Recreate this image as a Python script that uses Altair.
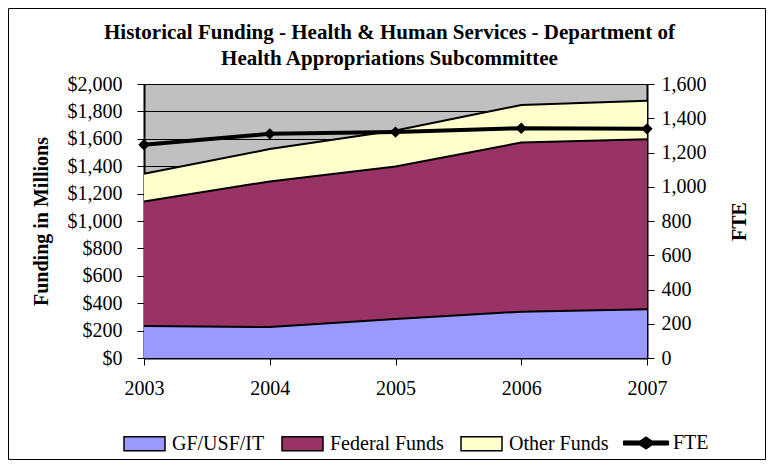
import altair as alt
import pandas as pd

years = [2003, 2004, 2005, 2006, 2007]
gf_usf_it = [233, 226, 285, 338, 355]
federal_funds = [910, 1063, 1113, 1235, 1242]
other_funds = [202, 236, 262, 274, 281]
fte = [1245, 1309, 1319, 1342, 1338]

fund_names = ["GF/USF/IT", "Federal Funds", "Other Funds"]
fund_colors = ["#9999FF", "#993366", "#FFFFCC"]

rows = []
for i, y in enumerate(years):
    base = 0
    for name, vals in zip(fund_names, [gf_usf_it, federal_funds, other_funds]):
        rows.append({"year": y, "series": name, "lower": base, "upper": base + vals[i]})
        base += vals[i]
funds_df = pd.DataFrame(rows)
fte_df = pd.DataFrame({"year": years, "fte": fte, "label": ["FTE"] * len(years)})

W, H = 503, 274
FONT = "Liberation Serif"

rect_path = "M-1,-0.34L1,-0.34L1,0.34L-1,0.34Z"
fte_path = "M-1.1,-0.1L-0.3,-0.1L0,-0.3L0.3,-0.1L1.1,-0.1L1.1,0.1L0.3,0.1L0,0.3L-0.3,0.1L-1.1,0.1Z"

x_enc = alt.X("year:Q", scale=alt.Scale(domain=[2003, 2007], nice=False),
              axis=alt.Axis(values=years, format="d", title=None, grid=False,
                            labelFlush=False, labelPadding=13, labelOverlap=False))

y_funds = alt.Y("upper:Q", scale=alt.Scale(domain=[0, 2000], nice=False),
                axis=alt.Axis(values=list(range(0, 2001, 200)), format="$,.0f",
                              title="Funding in Millions", grid=True, labelPadding=15,
                              titleX=-103, titleY=H / 2, titleBaseline="middle"))

area = alt.Chart(funds_df).mark_area(opacity=1).encode(
    x=x_enc,
    y=y_funds,
    y2="lower:Q",
    color=alt.Color("series:N",
                    scale=alt.Scale(domain=fund_names, range=fund_colors),
                    sort=fund_names,
                    legend=alt.Legend(
                        title=None, orient="none", direction="horizontal",
                        legendX=-21, legendY=338,
                        symbolType=rect_path, symbolSize=1681,
                        symbolStrokeColor="black", symbolStrokeWidth=1.5,
                        labelFont=FONT, labelFontSize=20, labelColor="black",
                        labelOffset=6, columnPadding=14,
                    )),
)

toplines = alt.Chart(funds_df).mark_line(color="black", strokeWidth=2).encode(
    x=x_enc,
    y=y_funds,
    detail="series:N",
)

funding = alt.layer(area, toplines)

y_fte = alt.Y("fte:Q", scale=alt.Scale(domain=[0, 1600], nice=False),
              axis=alt.Axis(orient="right", values=list(range(0, 1601, 200)), format=",.0f",
                            title="FTE", grid=False, labelPadding=7,
                            titleX=92, titleY=H / 2, titleAngle=270, titleBaseline="middle"))

fte_line = alt.Chart(fte_df).mark_line(strokeWidth=4).encode(
    x=x_enc, y=y_fte,
    stroke=alt.Stroke("label:N", scale=alt.Scale(domain=["FTE"], range=["black"]),
                      legend=alt.Legend(
                          title=None, orient="none", direction="horizontal",
                          legendX=481, legendY=338,
                          symbolType=fte_path, symbolSize=1681,
                          symbolFillColor="black", symbolStrokeColor="black",
                          symbolStrokeWidth=1,
                          labelFont=FONT, labelFontSize=20, labelColor="black",
                          labelOffset=6,
                      )),
)
fte_pts = alt.Chart(fte_df).mark_point(shape="diamond", filled=True, size=130, color="black",
                                       opacity=1).encode(x=x_enc, y=y_fte)
fte_layer = alt.layer(fte_line, fte_pts)

frame = alt.Chart(pd.DataFrame({"a": [0]})).mark_rect(
    fill="transparent", stroke="black", strokeWidth=1).encode(
    x=alt.value(-135.5), x2=alt.value(621.5), y=alt.value(-75.5), y2=alt.value(375.5))

chart = alt.layer(funding, fte_layer, frame).resolve_scale(y="independent").properties(
    width=W, height=H,
    title=alt.Title(["Historical Funding - Health & Human Services - Department of",
                     "Health Appropriations Subcommittee"],
                    font=FONT, fontSize=21, fontWeight="bold", lineHeight=26,
                    anchor="middle", offset=0, dy=61, dx=-6, color="black"),
    autosize="none",
    background="white",
    padding={"left": 136, "top": 76, "right": 119, "bottom": 102},
).configure_view(
    fill="#C0C0C0", stroke="#808080", strokeWidth=1
).configure_axis(
    labelFont=FONT, labelFontSize=20, labelColor="black",
    titleFont=FONT, titleFontSize=20, titleFontWeight="bold", titleColor="black",
    domainColor="black", domainWidth=2, tickColor="black", tickSize=7, tickWidth=1,
    gridColor="black", gridWidth=1,
)

chart.save("out.html", embed_options={"renderer": "svg", "actions": False})
